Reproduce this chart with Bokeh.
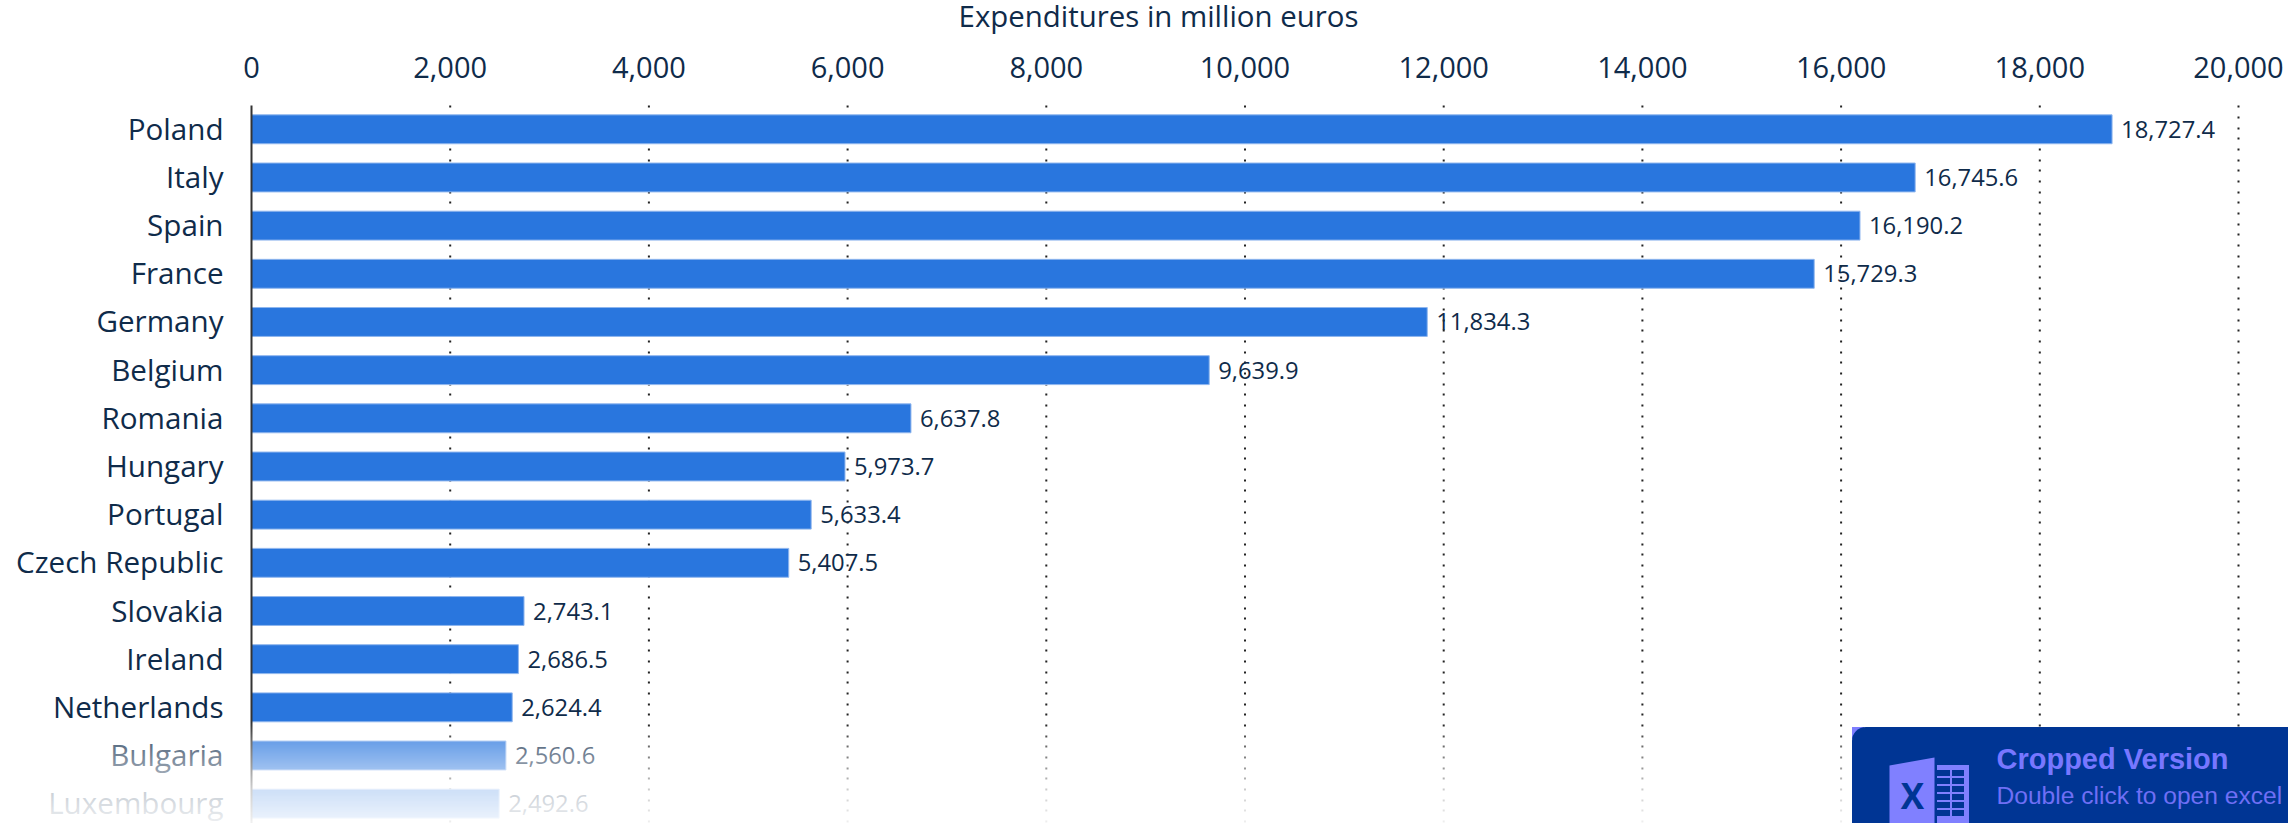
from bokeh.plotting import figure
from bokeh.models import Range1d, FixedTicker, NumeralTickFormatter, BoxAnnotation, PolyAnnotation, Label, ColumnDataSource
from bokeh.core.properties import value
from bokeh.embed import file_html
from bokeh.resources import INLINE
import numpy as np

countries = ["Poland", "Italy", "Spain", "France", "Germany", "Belgium", "Romania", "Hungary", "Portugal",
             "Czech Republic", "Slovakia", "Ireland", "Netherlands", "Bulgaria", "Luxembourg"]
expenditures = [18727.4, 16745.6, 16190.2, 15729.3, 11834.3, 9639.9, 6637.8, 5973.7, 5633.4,
                5407.5, 2743.1, 2686.5, 2624.4, 2560.6, 2492.6]
x_ticks = list(range(0, 20001, 2000))
axis_title = "Expenditures in million euros"

INK = "#0f2b4a"
NAVY = "#003594"
W, H = 2288, 823
X0, X20K = 251, 2238   # page pixels of 0 and 20,000
scale = (X20K - X0) / 20000
PITCH, ROW0, TOP = 48.17, 128.8, 105   # row pitch, first row centre and plot top in page pixels
y_top = (TOP - ROW0) / PITCH
y_bottom = (H - ROW0) / PITCH
src = ColumnDataSource(dict(y=list(range(len(countries))), v=expenditures, zero=[0] * len(countries),
                            c=countries, t=[f"{v:,.1f}" for v in expenditures]))
p = figure(width=W, height=H, output_backend="svg", toolbar_location=None,
           x_axis_location="above",
           x_range=Range1d(-X0 / scale, (W - X0) / scale), y_range=Range1d(y_bottom, -ROW0 / PITCH),
           min_border_left=0, min_border_right=0, min_border_bottom=0, min_border_top=0,
           outline_line_color=None, background_fill_color="white")

p.xaxis.fixed_location = y_top
p.xaxis.ticker = FixedTicker(ticks=x_ticks)
p.xaxis.formatter = NumeralTickFormatter(format="0,0")
p.xaxis.major_label_text_font = "Open Sans"
p.xaxis.major_label_text_font_size = "29px"
p.xaxis.major_label_text_color = INK
p.xaxis.axis_line_color = None
p.xaxis.major_tick_line_color = None
p.xaxis.minor_tick_line_color = None
p.xaxis.major_label_standoff = 22

p.yaxis.fixed_location = 0
p.yaxis.bounds = (y_top, y_bottom)
p.yaxis.ticker = FixedTicker(ticks=[])
p.yaxis.axis_line_color = "#333333"
p.yaxis.axis_line_width = 2
p.yaxis.major_tick_line_color = None
p.yaxis.minor_tick_line_color = None

p.grid.visible = False
grid_ticks = x_ticks[1:]
p.segment(x0=grid_ticks, x1=grid_ticks, y0=[y_top] * len(grid_ticks), y1=[y_bottom] * len(grid_ticks),
          line_color="#222222", line_width=2, line_dash="2 9 2 9 2 8", level="underlay")

p.hbar(y="y", right="v", left=0, height=0.6, source=src, fill_color="#2976de", line_color="#8fb6ee", line_width=1)
p.text(x="v", y="y", text="t", source=src, x_offset=9, text_baseline="middle",
       text_font=value("Open Sans"), text_font_size="23.8px", text_color=INK)
p.text(x="zero", y="y", text="c", source=src, x_offset=-28, y_offset=-1, text_align="right", text_baseline="middle",
       text_font=value("Open Sans"), text_font_size="29.6px", text_color=INK)
p.add_layout(Label(x=1158, y=15, x_units="canvas", y_units="canvas", text=axis_title, text_font="Open Sans",
                   text_font_size="29.4px", text_color=INK, text_align="center", text_baseline="middle"))


def box(l, r, t, b, color, alpha=1.0, **kw):
    p.add_layout(BoxAnnotation(left=l - 0.5, right=r - 0.5, top=t - 0.5, bottom=b - 0.5,
                               left_units="canvas", right_units="canvas", top_units="canvas", bottom_units="canvas",
                               fill_color=color, fill_alpha=alpha, line_color=None, level="overlay", **kw))


# white fade over the bottom of the page, one pixel row at a time
fade_y = [722, 741, 769, 789, 817, 823]
fade_a = [0, .3, .55, .77, .9, .93]
for py in range(722, H + 1):
    box(0, W + 1, py, py + 1, "#ffffff", float(np.interp(py, fade_y, fade_a)))

# badge
box(1852, 1864, 727, 739, "#7d7dff")
box(1852, W + 1, 727, H + 1, NAVY, border_radius=dict(top_left=14, top_right=0, bottom_right=0, bottom_left=0))
for txt, x, y, style, col, size in [("Cropped Version", 1996, 758, "bold", "#7777ff", "29px"),
                                    ("Double click to open excel", 1996, 795, "normal", "#6f6ff5", "24.6px"),
                                    ("file with complete data", 1996, 832, "normal", "#6f6ff5", "24.6px")]:
    p.add_layout(Label(x=x, y=y, x_units="canvas", y_units="canvas", text=txt, text_font="Liberation Sans",
                       text_font_size=size, text_font_style=style, text_color=col, text_baseline="middle", level="overlay"))
# excel icon
p.add_layout(PolyAnnotation(xs=[1889, 1934, 1934, 1889], ys=[765, 757, 830, 823], xs_units="canvas", ys_units="canvas",
                            fill_color="#8080ff", fill_alpha=1, line_color=None, level="overlay"))
box(1937, 1969, 765, H + 1, "#8080ff")
for ry in range(770, 818, 8):
    box(1937, 1950, ry, ry + 6, NAVY)
    box(1952, 1964, ry, ry + 6, NAVY)
p.add_layout(Label(x=1912, y=795, x_units="canvas", y_units="canvas", text="X", text_font="Open Sans",
                   text_font_size="35px", text_font_style="bold", text_color=NAVY, text_align="center",
                   text_baseline="middle", level="overlay"))

open("out.html", "w").write(file_html(p, INLINE))
